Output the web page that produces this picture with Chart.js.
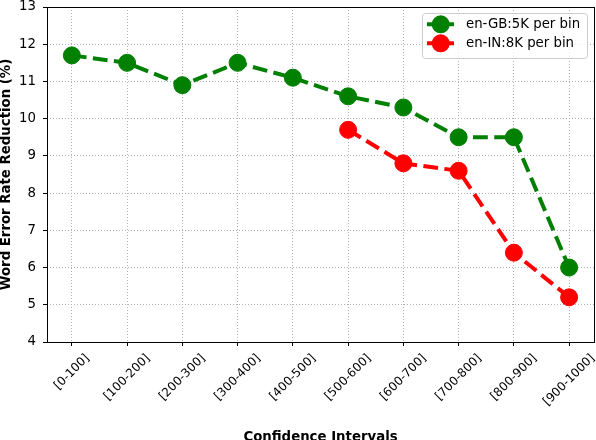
<!DOCTYPE html>
<html>
<head>
<meta charset="utf-8">
<script src="https://cdn.jsdelivr.net/npm/chart.js@4.4.1/dist/chart.umd.min.js"></script>
<style>
    html, body { margin: 0; padding: 0; background: #fff; }
    #wrap { width: 596px; height: 440px; }
</style>
</head>
<body>
<div id="wrap"><canvas id="chartWer" width="596" height="440"></canvas></div>
<script>
// --- 1. DATA ---

const intervals = ['[0-100]', '[100-200]', '[200-300]', '[300-400]', '[400-500]',
                   '[500-600]', '[600-700]', '[700-800]', '[800-900]', '[900-1000]'];
const werGB = [11.7, 11.5, 10.9, 11.5, 11.1, 10.6, 10.3, 9.5, 9.5, 6.0];
const werIN = [null, null, null, null, null, 9.7, 8.8, 8.6, 6.4, 5.2];
const yTicks = [4, 5, 6, 7, 8, 9, 10, 11, 12, 13];
const seriesLabels = ['en-GB:5K per bin', 'en-IN:8K per bin'];

const colors = {
    green: '#008000',
    red: '#ff0000',
    grid: '#b0b0b0',
    text: '#000000'
};

const FONT = '"DejaVu Sans", sans-serif';
const DASH = [14.8, 6.4];

// {x, y} points, skipping empty bins
function toPoints(values) {
    return values
        .map((v, i) => ({ x: i, y: v }))
        .filter(p => p.y !== null);
}

// --- 2. PLUGIN: frame, rotated category labels, legend ---

const frameAndLabels = {
    id: 'frameAndLabels',
    afterDraw(chart) {
        const { ctx, chartArea: a, scales: { x } } = chart;
        ctx.save();

        // box round the plot
        ctx.strokeStyle = colors.text;
        ctx.lineWidth = 1;
        ctx.setLineDash([]);
        ctx.strokeRect(a.left + 0.5, a.top + 0.5, a.right - a.left, a.bottom - a.top);

        // x labels, rotated 45deg and centred under each tick
        ctx.font = '12px ' + FONT;
        ctx.fillStyle = colors.text;
        ctx.textAlign = 'center';
        ctx.textBaseline = 'middle';
        const lineH = 12 * 1.164;
        intervals.forEach((txt, i) => {
            const px = x.getPixelForValue(i);
            const w = ctx.measureText(txt).width;
            const cy = a.bottom + 9.5 + (w + lineH) * Math.SQRT1_2 / 2;
            ctx.save();
            ctx.translate(px, cy);
            ctx.rotate(-Math.PI / 4);
            ctx.fillText(txt, 0, 0);
            ctx.restore();
        });

        // legend in the upper right corner
        const L = a.right - 172, T = a.top + 6, W = 165, H = 45;
        ctx.beginPath();
        ctx.roundRect(L + 0.5, T + 0.5, W, H, 3);
        ctx.fillStyle = 'rgba(255,255,255,0.8)';
        ctx.fill();
        ctx.strokeStyle = '#cccccc';
        ctx.stroke();

        ctx.font = '13.3px ' + FONT;
        ctx.textAlign = 'left';
        chart.data.datasets.forEach((ds, k) => {
            const y = T + 11.3 + k * 19;
            ctx.strokeStyle = ds.borderColor;
            ctx.lineWidth = ds.borderWidth;
            ctx.setLineDash(DASH);
            ctx.beginPath();
            ctx.moveTo(L + 5, y);
            ctx.lineTo(L + 32, y);
            ctx.stroke();
            ctx.setLineDash([]);
            ctx.beginPath();
            ctx.arc(L + 18.7, y, 9, 0, Math.PI * 2);
            ctx.fillStyle = ds.borderColor;
            ctx.fill();
            ctx.fillStyle = colors.text;
            ctx.fillText(ds.label, L + 44, y);
        });

        ctx.restore();
    }
};

// --- 3. CHART ---

function seriesDataset(label, values, color, order) {
    return {
        label: label,
        data: toPoints(values),
        borderColor: color,
        backgroundColor: color,
        borderWidth: 4,
        borderDash: DASH,
        pointRadius: 8.5,
        pointBorderWidth: 1,
        pointBackgroundColor: color,
        pointBorderColor: color,
        fill: false,
        tension: 0,
        order: order
    };
}

// drop the extra room Chart.js keeps for edge labels
function noEdgePadding(s) {
    s.paddingTop = 0;
    s.paddingBottom = 0;
    s.paddingLeft = 0;
    s.paddingRight = 0;
}

new Chart(document.getElementById('chartWer').getContext('2d'), {
    type: 'line',
    data: {
        datasets: [
            seriesDataset(seriesLabels[0], werGB, colors.green, 2),
            seriesDataset(seriesLabels[1], werIN, colors.red, 1)
        ]
    },
    options: {
        responsive: false,
        animation: false,
        layout: {
            autoPadding: false,
            padding: { top: 7, right: 2, left: 0, bottom: 0 }
        },
        plugins: {
            legend: { display: false },
            tooltip: { enabled: false }
        },
        scales: {
            x: {
                type: 'linear',
                min: -0.45,
                max: intervals.length - 1 + 0.45,
                afterBuildTicks: s => { s.ticks = intervals.map((_, i) => ({ value: i })); },
                afterFit: s => { s.height = 98; noEdgePadding(s); },
                ticks: { display: false },
                grid: {
                    color: colors.grid,
                    lineWidth: 1,
                    tickLength: 4,
                    tickColor: colors.text,
                    tickBorderDash: [1, 0]
                },
                border: { display: false, dash: [1, 2] },
                title: {
                    display: true,
                    text: 'Confidence Intervals',
                    color: colors.text,
                    font: { family: FONT, size: 13.3, weight: 'bold' },
                    padding: { top: 0, bottom: -6 }
                }
            },
            y: {
                min: yTicks[0],
                max: yTicks[yTicks.length - 1],
                afterBuildTicks: s => { s.ticks = yTicks.map(v => ({ value: v })); },
                afterFit: s => { s.width = 47; noEdgePadding(s); },
                ticks: {
                    color: colors.text,
                    padding: 7,
                    font: { family: FONT, size: 13.3 }
                },
                grid: {
                    color: colors.grid,
                    lineWidth: 1,
                    tickLength: 4,
                    tickColor: colors.text,
                    tickBorderDash: [1, 0]
                },
                border: { display: false, dash: [1, 2] },
                title: {
                    display: true,
                    text: 'Word Error Rate Reduction (%)',
                    color: colors.text,
                    font: { family: FONT, size: 13.3, weight: 'bold' },
                    padding: { top: -1, bottom: 0 }
                }
            }
        }
    },
    plugins: [frameAndLabels]
});
</script>
</body>
</html>
